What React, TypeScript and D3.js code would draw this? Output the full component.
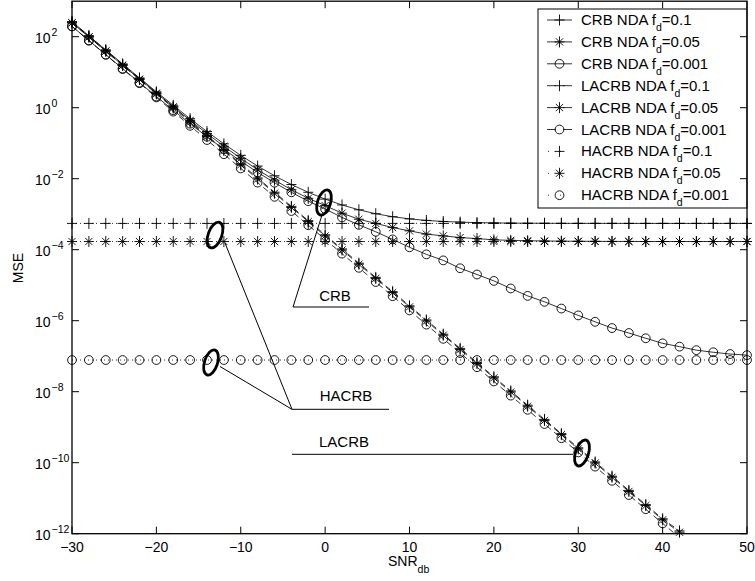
import React from 'react';
import * as d3 from 'd3';

// SNR (dB) grid
const SNR = [-30, -28, -26, -24, -22, -20, -18, -16, -14, -12, -10, -8, -6, -4, -2, 0, 2, 4, 6, 8, 10, 12, 14, 16, 18, 20, 22, 24, 26, 28, 30, 32, 34, 36, 38, 40, 42, 44, 46, 48, 50];

const CRB_01 = [265, 106, 42.5, 17.1, 6.9, 2.8, 1.17, 0.49, 0.213, 0.096, 0.0454, 0.0227, 0.0121, 6.86e-3, 4.14e-3, 2.66e-3, 1.82e-3, 1.33e-3, 1.03e-3, 8.5e-4, 7.38e-4, 6.68e-4, 6.24e-4, 5.97e-4, 5.79e-4, 5.69e-4, 5.62e-4, 5.57e-4, 5.55e-4, 5.53e-4, 5.52e-4, 5.51e-4, 5.51e-4, 5.5e-4, 5.5e-4, 5.5e-4, 5.5e-4, 5.5e-4, 5.5e-4, 5.5e-4, 5.5e-4];
const CRB_005 = [246, 98.8, 39.5, 15.8, 6.37, 2.58, 1.06, 0.44, 0.187, 0.082, 0.0374, 0.0179, 9.12e-3, 4.91e-3, 2.8e-3, 1.75e-3, 1.07e-3, 7.2e-4, 5.5e-4, 4.2e-4, 3.4e-4, 2.75e-4, 2.45e-4, 2.2e-4, 2.05e-4, 1.9e-4, 1.83e-4, 1.79e-4, 1.76e-4, 1.74e-4, 1.73e-4, 1.72e-4, 1.71e-4, 1.71e-4, 1.7e-4, 1.7e-4, 1.7e-4, 1.7e-4, 1.7e-4, 1.7e-4, 1.7e-4];
const CRB_0001 = [196, 78.3, 31.4, 12.6, 5.08, 2.07, 0.85, 0.355, 0.152, 0.0674, 0.0311, 0.0151, 7.7e-3, 4.13e-3, 2.33e-3, 1.4e-3, 8.1e-4, 5.0e-4, 3.2e-4, 1.95e-4, 1.17e-4, 7.4e-5, 5.0e-5, 3.0e-5, 2.0e-5, 1.32e-5, 8.1e-6, 5.0e-6, 3.4e-6, 2.2e-6, 1.41e-6, 9.3e-7, 6.2e-7, 4.5e-7, 3.2e-7, 2.3e-7, 1.86e-7, 1.48e-7, 1.29e-7, 1.15e-7, 1.07e-7];

const LACRB_01 = [262, 105, 41.7, 16.6, 6.6, 2.62, 1.05, 0.417, 0.166, 0.066, 0.0263, 0.0105, 4.17e-3, 1.66e-3, 6.6e-4, 2.63e-4, 1.05e-4, 4.17e-5, 1.66e-5, 6.6e-6, 2.63e-6, 1.05e-6, 4.17e-7, 1.66e-7, 6.6e-8, 2.63e-8, 1.05e-8, 4.17e-9, 1.66e-9, 6.6e-10, 2.63e-10, 1.05e-10, 4.17e-11, 1.66e-11, 6.6e-12, 2.63e-12, 1.2e-12];
const LACRB_005 = [245, 98, 39, 15.5, 6.2, 2.45, 0.98, 0.39, 0.155, 0.062, 0.0245, 9.8e-3, 3.9e-3, 1.55e-3, 6.2e-4, 2.45e-4, 9.8e-5, 3.9e-5, 1.55e-5, 6.2e-6, 2.45e-6, 9.8e-7, 3.9e-7, 1.55e-7, 6.2e-8, 2.45e-8, 9.8e-9, 3.9e-9, 1.55e-9, 6.2e-10, 2.45e-10, 9.8e-11, 3.9e-11, 1.55e-11, 6.2e-12, 2.45e-12, 1.1e-12];
const LACRB_0001 = [195, 77.6, 30.9, 12.3, 4.9, 1.95, 0.776, 0.309, 0.123, 0.049, 0.0195, 7.76e-3, 3.09e-3, 1.23e-3, 4.9e-4, 1.95e-4, 7.76e-5, 3.09e-5, 1.23e-5, 4.9e-6, 1.95e-6, 7.76e-7, 3.09e-7, 1.23e-7, 4.9e-8, 1.95e-8, 7.76e-9, 3.09e-9, 1.23e-9, 4.9e-10, 1.95e-10, 7.76e-11, 3.09e-11, 1.23e-11, 4.9e-12, 1.95e-12, 7.76e-13];

const HACRB_01 = [5.5e-4, 5.5e-4, 5.5e-4, 5.5e-4, 5.5e-4, 5.5e-4, 5.5e-4, 5.5e-4, 5.5e-4, 5.5e-4, 5.5e-4, 5.5e-4, 5.5e-4, 5.5e-4, 5.5e-4, 5.5e-4, 5.5e-4, 5.5e-4, 5.5e-4, 5.5e-4, 5.5e-4, 5.5e-4, 5.5e-4, 5.5e-4, 5.5e-4, 5.5e-4, 5.5e-4, 5.5e-4, 5.5e-4, 5.5e-4, 5.5e-4, 5.5e-4, 5.5e-4, 5.5e-4, 5.5e-4, 5.5e-4, 5.5e-4, 5.5e-4, 5.5e-4, 5.5e-4, 5.5e-4];
const HACRB_005 = [1.7e-4, 1.7e-4, 1.7e-4, 1.7e-4, 1.7e-4, 1.7e-4, 1.7e-4, 1.7e-4, 1.7e-4, 1.7e-4, 1.7e-4, 1.7e-4, 1.7e-4, 1.7e-4, 1.7e-4, 1.7e-4, 1.7e-4, 1.7e-4, 1.7e-4, 1.7e-4, 1.7e-4, 1.7e-4, 1.7e-4, 1.7e-4, 1.7e-4, 1.7e-4, 1.7e-4, 1.7e-4, 1.7e-4, 1.7e-4, 1.7e-4, 1.7e-4, 1.7e-4, 1.7e-4, 1.7e-4, 1.7e-4, 1.7e-4, 1.7e-4, 1.7e-4, 1.7e-4, 1.7e-4];
const HACRB_0001 = [7.8e-8, 7.8e-8, 7.8e-8, 7.8e-8, 7.8e-8, 7.8e-8, 7.8e-8, 7.8e-8, 7.8e-8, 7.8e-8, 7.8e-8, 7.8e-8, 7.8e-8, 7.8e-8, 7.8e-8, 7.8e-8, 7.8e-8, 7.8e-8, 7.8e-8, 7.8e-8, 7.8e-8, 7.8e-8, 7.8e-8, 7.8e-8, 7.8e-8, 7.8e-8, 7.8e-8, 7.8e-8, 7.8e-8, 7.8e-8, 7.8e-8, 7.8e-8, 7.8e-8, 7.8e-8, 7.8e-8, 7.8e-8, 7.8e-8, 7.8e-8, 7.8e-8, 7.8e-8, 7.8e-8];

const LEGEND_NAMES = ['CRB NDA f', 'CRB NDA f', 'CRB NDA f', 'LACRB NDA f', 'LACRB NDA f', 'LACRB NDA f', 'HACRB NDA f', 'HACRB NDA f', 'HACRB NDA f'];
const LEGEND_FD = ['=0.1', '=0.05', '=0.001', '=0.1', '=0.05', '=0.001', '=0.1', '=0.05', '=0.001'];

const X_TICKS = [-30, -20, -10, 0, 10, 20, 30, 40, 50];
const Y_TICK_EXPS = [2, 0, -2, -4, -6, -8, -10, -12];

const FONT = "'Liberation Sans', Arial, Helvetica, sans-serif";

type Mk = 'plus' | 'star' | 'circle';
const SERIES: { vals: number[]; dash: string | null; mk: Mk }[] = [
  { vals: CRB_01, dash: null, mk: 'plus' },
  { vals: CRB_005, dash: null, mk: 'star' },
  { vals: CRB_0001, dash: null, mk: 'circle' },
  { vals: LACRB_01, dash: '6,4', mk: 'plus' },
  { vals: LACRB_005, dash: '6,4', mk: 'star' },
  { vals: LACRB_0001, dash: '6,4', mk: 'circle' },
  { vals: HACRB_01, dash: '1,3', mk: 'plus' },
  { vals: HACRB_005, dash: '1,3', mk: 'star' },
  { vals: HACRB_0001, dash: '1,3', mk: 'circle' },
];

function Marker({ t, cx, cy }: { t: Mk; cx: number; cy: number }) {
  if (t === 'circle') return <circle cx={cx} cy={cy} r={4.4} fill="none" stroke="#000" strokeWidth={0.9} />;
  const p = `M${cx - 5},${cy}H${cx + 5}M${cx},${cy - 5.5}V${cy + 5.5}`;
  const s = t === 'star' ? `M${cx - 3.6},${cy - 3.6}L${cx + 3.6},${cy + 3.6}M${cx - 3.6},${cy + 3.6}L${cx + 3.6},${cy - 3.6}` : '';
  return <path d={p + s} fill="none" stroke="#000" strokeWidth={0.9} />;
}

export default function App() {
  const L = 72, R = 747, T = 1.2, B = 533.7;
  const x = d3.scaleLinear().domain([-30, 50]).range([L, R]);
  const y = d3.scaleLog().domain([1e-12, 1e3]).range([B, T]);
  const line = d3.line<number>().x((_, i) => x(SNR[i])).y((d) => y(d));

  const legX = 538, legY = 9, legW = R - 538, legH = 199;
  const rowY = (i: number) => 20 + i * 21.9;

  return (
    <div style={{ position: 'absolute', left: 0, top: 0 }}>
      <svg width={755} height={581} style={{ display: 'block', background: '#fff' }} fontFamily={FONT}>
        <defs>
          <clipPath id="plot">
            <rect x={L} y={T} width={R - L} height={B - T} />
          </clipPath>
        </defs>
        <rect x={0} y={0} width={755} height={581} fill="#fff" />

        {/* data lines */}
        <g clipPath="url(#plot)">
          {SERIES.map((s, k) => (
            <path key={k} d={line(s.vals) || ''} fill="none" stroke="#000" strokeWidth={0.8}
              strokeDasharray={s.dash || undefined} />
          ))}
        </g>
        {/* markers */}
        {SERIES.map((s, k) => (
          <g key={k}>
            {s.vals.map((v, i) => (v >= 1e-12 && v <= 1e3 ? <Marker key={i} t={s.mk} cx={x(SNR[i])} cy={y(v)} /> : null))}
          </g>
        ))}

        {/* annotations */}
        <g fill="none" stroke="#000" strokeWidth={1}>
          <path d="M293,307L322,215" />
          <path d="M293,307H369" />
          <path d="M292,409.3L225,243" />
          <path d="M292,409.3L220,366.5" />
          <path d="M292,409.3H389" />
          <path d="M292,454.3H573" />
        </g>
        <g fill="none" stroke="#000" strokeWidth={2.8}>
          <ellipse cx={324} cy={202.5} rx={6.5} ry={13} transform="rotate(18 324 202.5)" />
          <ellipse cx={215} cy={235} rx={6.8} ry={13.5} transform="rotate(20 215 235)" />
          <ellipse cx={211} cy={362.5} rx={6.5} ry={13} transform="rotate(18 211 362.5)" />
          <ellipse cx={582} cy={453} rx={6.5} ry={13.5} transform="rotate(18 582 453)" />
        </g>
        <g fontSize={15} fill="#000" textAnchor="middle">
          <text x={335} y={301}>CRB</text>
          <text x={346} y={401}>HACRB</text>
          <text x={344} y={447}>LACRB</text>
        </g>

        {/* legend */}
        <rect x={legX} y={legY} width={legW} height={legH} fill="#fff" stroke="#000" strokeWidth={1} />
        {SERIES.map((s, i) => {
          const cy = rowY(i);
          return (
            <g key={i}>
              <line x1={547} x2={572} y1={cy} y2={cy} stroke="#000" strokeWidth={0.8}
                strokeDasharray={s.dash === '6,4' ? '9,7' : s.dash === '1,3' ? '1,11' : undefined}
                strokeDashoffset={s.dash === '1,3' ? -1 : 0} />
              <Marker t={s.mk} cx={559.5} cy={cy} />
              <text x={581} y={cy + 5} fontSize={15}>
                {LEGEND_NAMES[i]}
                <tspan fontSize={10.5} dy={6}>d</tspan>
                <tspan dy={-6}>{LEGEND_FD[i]}</tspan>
              </text>
            </g>
          );
        })}

        {/* axes frame */}
        <rect x={L} y={T} width={R - L} height={B - T} fill="none" stroke="#000" strokeWidth={1.3} />
        <g stroke="#000" strokeWidth={1}>
          {X_TICKS.map((t) => (
            <g key={t}>
              <line x1={x(t)} x2={x(t)} y1={B} y2={B - 7} />
              <line x1={x(t)} x2={x(t)} y1={T} y2={T + 7} />
            </g>
          ))}
          {Y_TICK_EXPS.map((e) => (
            <g key={e}>
              <line x1={L} x2={L + 7} y1={y(Math.pow(10, e))} y2={y(Math.pow(10, e))} />
              <line x1={R} x2={R - 7} y1={y(Math.pow(10, e))} y2={y(Math.pow(10, e))} />
            </g>
          ))}
        </g>
        <g fontSize={14} fill="#000">
          {X_TICKS.map((t) => (
            <text key={t} x={x(t)} y={551.5} textAnchor="middle">{t < 0 ? `\u2212${-t}` : `${t}`}</text>
          ))}
          {Y_TICK_EXPS.map((e) => {
            const ty = y(Math.pow(10, e));
            return (
              <text key={e} x={35} y={ty + 6.5}>
                10<tspan fontSize={10.5} dx={1} dy={-7}>{e < 0 ? `\u2212${-e}` : `${e}`}</tspan>
              </text>
            );
          })}
        </g>
        {/* axis labels */}
        <text x={388} y={566} fontSize={14}>
          SNR<tspan fontSize={10.5} dy={7}>db</tspan>
        </text>
        <text transform="translate(23,268) rotate(-90)" fontSize={14} textAnchor="middle">MSE</text>
      </svg>
    </div>
  );
}
